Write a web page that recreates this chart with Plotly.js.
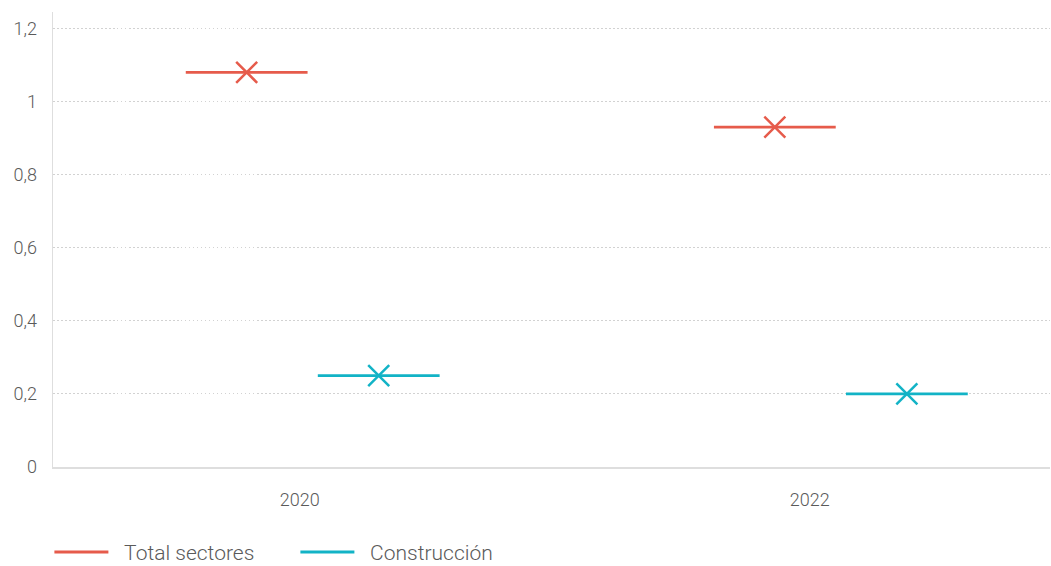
<!DOCTYPE html>
<html>
<head>
<meta charset="utf-8">
<script src="https://cdn.plot.ly/plotly-3.0.1.min.js"></script>
<style>html,body{margin:0;padding:0;background:#fff;}#chart{width:1051px;height:566px;}</style>
</head>
<body>
<div id="chart"></div>
<script>
const categories = ['2020', '2022'];
const totalSectores = [1.08, 0.93];
const construccion = [0.25, 0.20];
const seriesNames = ['Total sectores', 'Construcción'];
const yTickVals = [0, 0.2, 0.4, 0.6, 0.8, 1, 1.2];

const colors = ['#E65B4B', '#12B3C6'];
const seriesValues = [totalSectores, construccion];

const traces = [];
seriesValues.forEach(function (vals, i) {
  const grp = 'g' + i;
  traces.push({
    type: 'scatter', mode: 'markers', x: categories, y: vals,
    offsetgroup: grp, showlegend: false, hoverinfo: 'skip',
    marker: { symbol: 'line-ew', size: 87, color: colors[i], line: { color: colors[i], width: 2.7 } }
  });
  traces.push({
    type: 'scatter', mode: 'markers', x: categories, y: vals,
    offsetgroup: grp, showlegend: false, name: seriesNames[i],
    marker: { symbol: 'x-thin', size: 21, color: colors[i], line: { color: colors[i], width: 2.5 } }
  });
  traces.push({
    type: 'scatter', mode: 'lines', x: [null], y: [null],
    offsetgroup: grp, name: '\u2002' + seriesNames[i], showlegend: true,
    line: { color: colors[i], width: 3 }
  });
});
// carrier trace so the label axis is drawn
traces.push({ type: 'scatter', mode: 'markers', x: [null], y: [null], xaxis: 'x2', yaxis: 'y', showlegend: false, hoverinfo: 'skip' });

const font = { family: 'Roboto, sans-serif', size: 18, color: '#5a5a5a', weight: 300 };

const layout = {
  width: 1051, height: 566,
  margin: { l: 53, r: 1, t: 12, b: 99 },
  paper_bgcolor: '#fff', plot_bgcolor: '#fff',
  separators: ',.',
  font: font,
  scattermode: 'group',
  scattergap: 0.5,
  showlegend: true,
  xaxis: {
    type: 'category', categoryorder: 'array', categoryarray: categories,
    range: [-0.4917, 1.396], showticklabels: false, ticks: '',
    showgrid: false, zeroline: false,
    showline: true, linecolor: '#dedede', linewidth: 1.5, fixedrange: true
  },
  xaxis2: {
    overlaying: 'x', anchor: 'y', side: 'bottom', type: 'linear',
    range: [-0.484, 1.471], tickmode: 'array', tickvals: [0, 1], ticktext: categories,
    showgrid: false, zeroline: false, showline: false, ticks: '',
    ticklabelstandoff: 20, tickfont: font, fixedrange: true
  },
  yaxis: {
    range: [0, 1.245], tickmode: 'array', tickvals: yTickVals,
    ticktext: yTickVals.map(function (v) { return String(v).replace('.', ','); }),
    showgrid: true, gridcolor: '#d2d2d2', griddash: '1.5px,2.5px', gridwidth: 1,
    zeroline: false, showline: true, linecolor: '#dedede', linewidth: 1.5,
    ticks: '', ticklabelstandoff: 11, tickfont: font, fixedrange: true
  },
  legend: {
    orientation: 'h', xref: 'container', yref: 'container',
    x: 0.047, xanchor: 'left', y: 0.024, yanchor: 'middle',
    itemwidth: 54, entrywidth: 177, entrywidthmode: 'pixels',
    font: { family: 'Roboto, sans-serif', size: 21, color: '#5a5a5a', weight: 300 },
    itemclick: false, itemdoubleclick: false
  }
};

Plotly.newPlot('chart', traces, layout, { displayModeBar: false, staticPlot: true });
</script>
</body>
</html>
